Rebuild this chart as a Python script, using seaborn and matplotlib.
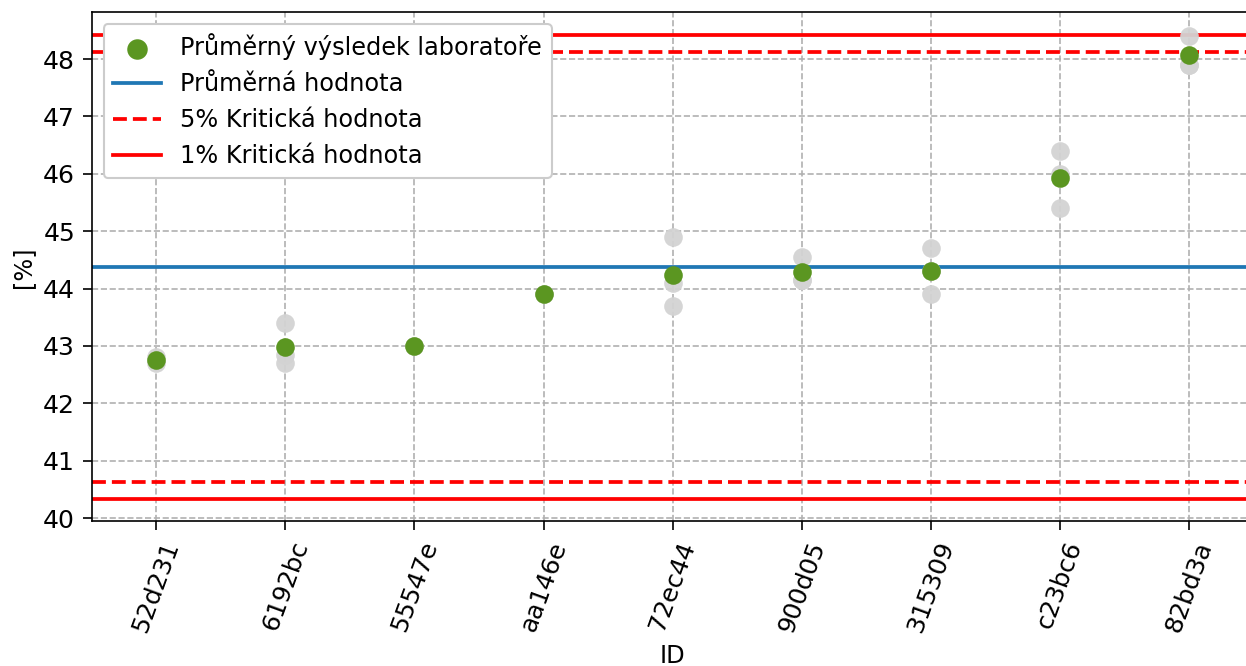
import pandas as pd
import matplotlib.pyplot as plt
import seaborn as sns

plt.rcParams['font.family'] = ['DejaVu Sans']
plt.rcParams['font.size'] = 11.5

# laboratory IDs and individual results
ids = ['52d231', '6192bc', '55547e', 'aa146e', '72ec44', '900d05', '315309', 'c23bc6', '82bd3a']
results = [
    [42.7, 42.8],
    [43.4, 42.84, 42.7],
    [43.0],
    [43.9],
    [44.9, 44.1, 43.7],
    [44.55, 44.15, 44.15],
    [44.71, 43.9, 44.3],
    [46.4, 46.0, 45.4],
    [48.4, 47.9, 47.9],
]
lab_means = [42.75, 42.98, 43.0, 43.9, 44.24, 44.28, 44.3, 45.93, 48.07]

mean_value = 44.37
crit5 = [40.63, 48.13]
crit1 = [40.34, 48.42]

rows = [(i, v) for i, vals in zip(ids, results) for v in vals]
df = pd.DataFrame(rows, columns=['ID', 'value'])
df_mean = pd.DataFrame({'ID': ids, 'value': lab_means})

fig = plt.figure(figsize=(1246 / 150, 666 / 150), dpi=150)
ax = fig.add_axes([0.0736, 0.217, 0.9324, 0.765])

sns.scatterplot(data=df, x='ID', y='value', color='lightgray', s=80,
                linewidth=0, alpha=0.95, ax=ax, zorder=3)
sns.scatterplot(data=df_mean, x='ID', y='value', color='#5b9621', s=80,
                linewidth=0, ax=ax, zorder=4, label='Průměrný výsledek laboratoře')

ax.axhline(mean_value, color='#1f77b4', lw=1.8, label='Průměrná hodnota', zorder=2)
ax.axhline(crit5[0], color='red', lw=1.8, ls='--', label='5% Kritická hodnota', zorder=2)
ax.axhline(crit5[1], color='red', lw=1.8, ls='--', zorder=2)
ax.axhline(crit1[0], color='red', lw=1.8, label='1% Kritická hodnota', zorder=2)
ax.axhline(crit1[1], color='red', lw=1.8, zorder=2)

ax.set_xlim(-0.5, len(ids) - 0.5)
ax.set_ylim(39.94, 48.82)
ax.set_yticks(range(40, 49))
ax.grid(True, ls='--', color='#b0b0b0', lw=0.8)
ax.set_axisbelow(True)
ax.tick_params(length=4.5, labelsize=12)
plt.setp(ax.get_xticklabels(), rotation=70)
ax.set_xlabel('ID')
ax.set_ylabel('[%]')
ax.legend(loc='upper left', framealpha=1, markerscale=1.1)

fig.savefig('out.png', dpi=150)
